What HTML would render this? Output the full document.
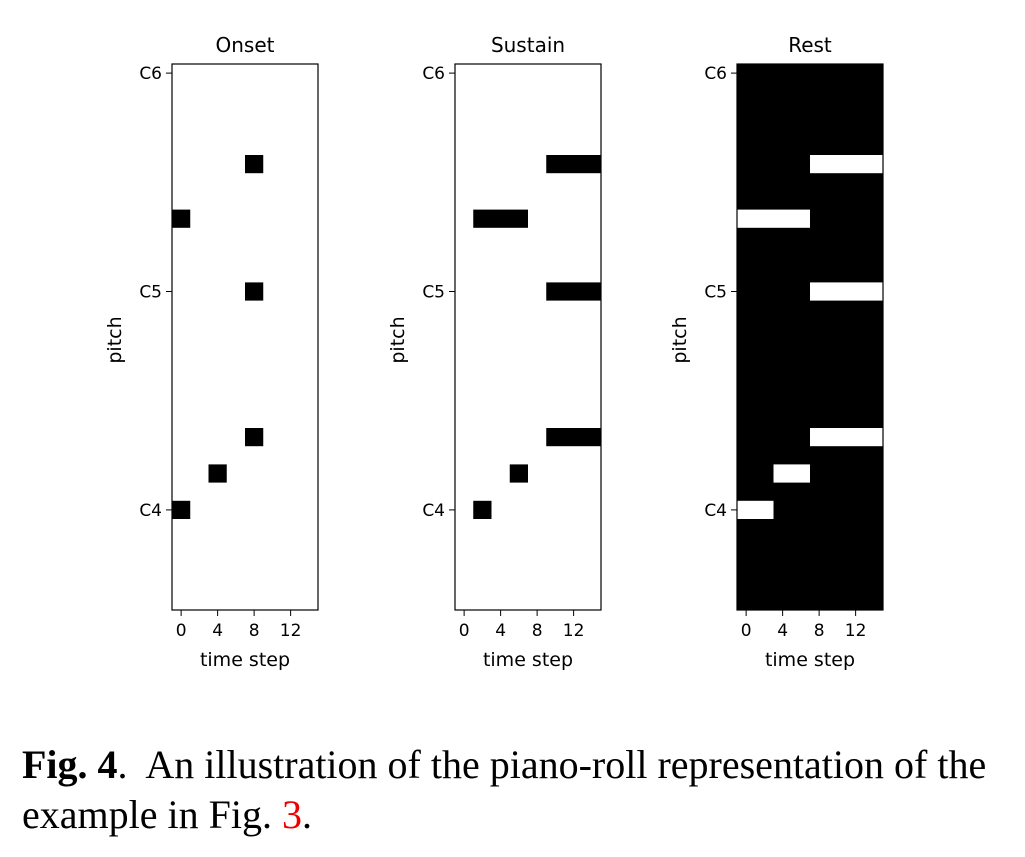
<!DOCTYPE html>
<html><head><meta charset="utf-8"><style>
body{margin:0;background:#fff;width:1025px;height:857px;overflow:hidden}
svg text{font-family:"DejaVu Sans","Liberation Sans",sans-serif;fill:#000}
.cap{position:absolute;left:22px;top:740px;font-family:"Liberation Serif",serif;font-size:40px;line-height:50px;color:#000;white-space:nowrap}
</style></head><body>
<svg id="chart" width="1025" height="740" style="position:absolute;left:0;top:0"></svg>
<div class="cap"><b>Fig. 4</b>.&nbsp; An illustration of the piano-roll representation of the<br>example in Fig. <span style="color:#e00">3</span>.</div>
<script>
const panelTitles=["Onset","Sustain","Rest"];
const noteNames=["C4","D4","E4","C5","E5","G5"];
const notePitches=[60,62,64,72,76,79];
const noteStarts=[0,4,8,8,0,8];
const noteEnds=[4,8,16,16,8,16];
const xTicks=[0,4,8,12];
const yTickPitches=[60,72,84];
const yTickLabels=["C4","C5","C6"];
const svg=document.getElementById('chart');
const NS="http://www.w3.org/2000/svg";
const panelX=[172,455,737],W=146,top0=64,H=546;
const tMin=-1,tMax=15,pMin=54.5,pMax=84.5;
function el(t,a,p){const e=document.createElementNS(NS,t);for(const k in a)e.setAttribute(k,a[k]);p.appendChild(e);return e;}
panelTitles.forEach((title,pi)=>{
  const x0=panelX[pi];
  const X=t=>x0+(t-tMin)/(tMax-tMin)*W;
  const Y=p=>top0+(pMax-p)/(pMax-pMin)*H;
  const g=el('g',{},svg);
  
  
  const bg=el('rect',{x:x0,y:top0,width:W,height:H,fill:pi==2?'#000':'#fff'},g);
  
  
  const col=pi==2?'#fff':'#000';
  noteNames.forEach((n,i)=>{
    let a,b;
    if(pi==0){a=noteStarts[i];b=noteStarts[i]+2;}
    else if(pi==1){a=noteStarts[i]+2;b=noteEnds[i];}
    else{a=noteStarts[i];b=noteEnds[i];}
    if(b<=a)return;
    const r=el('rect',{x:X(a-1),y:Y(notePitches[i]+0.5),width:X(b-1)-X(a-1),height:Y(notePitches[i]-0.5)-Y(notePitches[i]+0.5),fill:col},g);
    
    
  });
  el('rect',{x:x0,y:top0,width:W,height:H,fill:'none',stroke:'#000','stroke-width':1.2},g);
  xTicks.forEach(t=>{
    el('line',{x1:X(t),x2:X(t),y1:top0+H,y2:top0+H+6,stroke:'#000'},g);
    const tx=el('text',{x:X(t),y:top0+H+26,'text-anchor':'middle','font-size':17},g);tx.textContent=t;
    
    
  });
  yTickPitches.forEach((p,i)=>{
    el('line',{x1:x0-6,x2:x0,y1:Y(p),y2:Y(p),stroke:'#000'},g);
    const tx=el('text',{x:x0-10,y:Y(p)+6,'text-anchor':'end','font-size':17},g);tx.textContent=yTickLabels[i];
    
    
  });
  const tt=el('text',{x:x0+W/2,y:52,'text-anchor':'middle','font-size':20},g);tt.textContent=title;
  
  
  const xl=el('text',{x:x0+W/2,y:666,'text-anchor':'middle','font-size':19},g);xl.textContent='time step';
  
  
  const yl=el('text',{x:0,y:0,'text-anchor':'middle','font-size':19,transform:`translate(${x0-51},340) rotate(-90)`},g);yl.textContent='pitch';
  
  
});
</script>
</body></html>
